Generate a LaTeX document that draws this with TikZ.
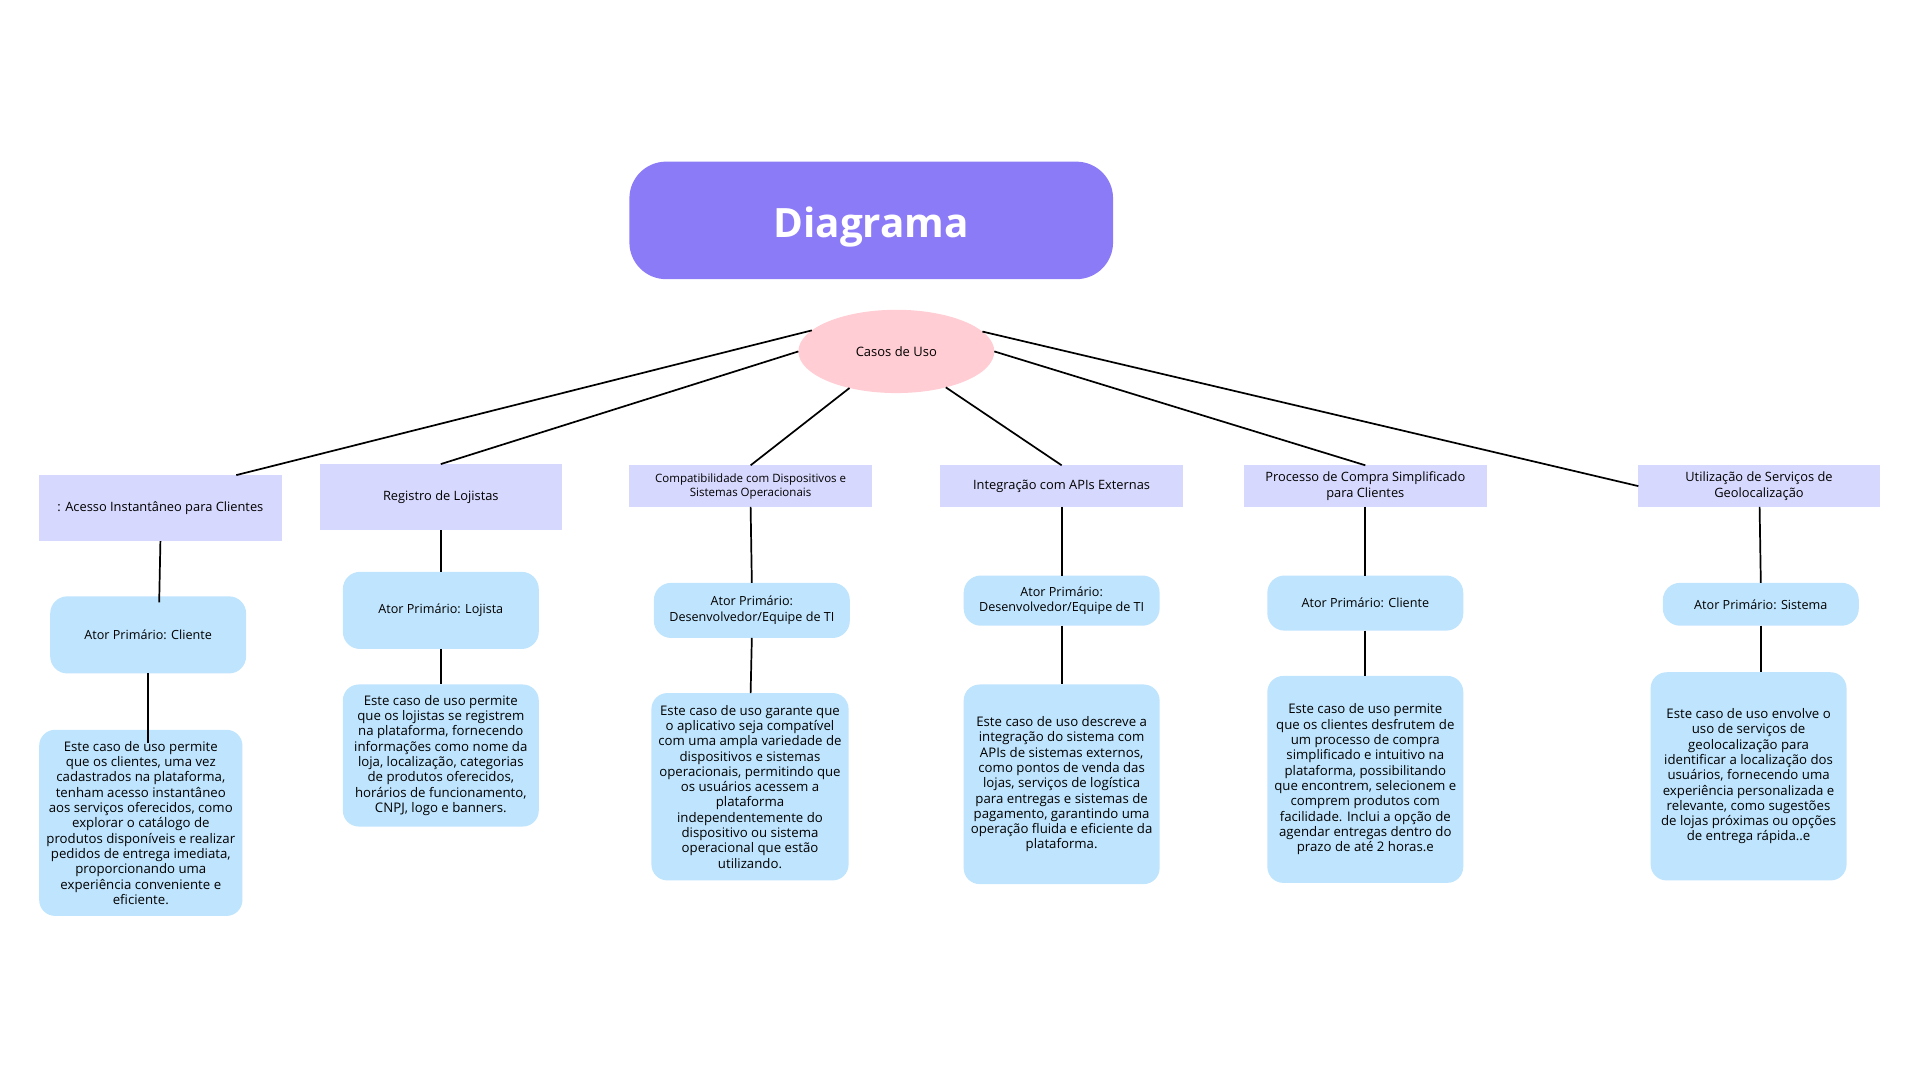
\documentclass[tikz,border=0pt]{standalone}
\usepackage{fontspec}
\setmainfont{Open Sans}
\usetikzlibrary{shapes.geometric,calc}
\definecolor{titlepurple}{HTML}{8C7BF7}
\definecolor{ellpink}{HTML}{FFCDD3}
\definecolor{lavbox}{HTML}{D7D8FD}
\definecolor{lightblue}{HTML}{BFE4FD}
\begin{document}
\begin{tikzpicture}[x=1pt,y=-1pt,
  titlebox/.style={fill=titlepurple,rounded corners=30pt,minimum width=395pt,minimum height=96pt,inner sep=0pt,outer sep=0pt,text=white,font=\fontsize{33}{40}\selectfont\bfseries},
  usecase/.style={ellipse,fill=ellpink,minimum width=160pt,minimum height=68pt,inner sep=0pt,outer sep=0pt,font=\fontsize{10.6}{12}\selectfont},
  topic/.style={fill=lavbox,minimum width=198pt,inner sep=0pt,outer sep=0pt,align=center,font=\fontsize{10.5}{12.8}\selectfont},
  actor/.style={fill=lightblue,rounded corners=14pt,minimum width=160pt,inner sep=0pt,outer sep=0pt,align=center,font=\fontsize{10.3}{12.8}\selectfont},
  desc/.style={fill=lightblue,rounded corners=13pt,minimum width=160pt,inner sep=0pt,outer sep=0pt,align=center,font=\fontsize{10.8}{12.5}\selectfont},
  link/.style={draw=black,line width=1.4pt}
]
\useasboundingbox (0,0) rectangle (1568,882);

\node[titlebox] (title) at (711.5,180) {\raisebox{-5pt}[\height][\depth]{Diagrama}};
\node[usecase] (casos) at (732,287) {Casos de Uso};

\node[topic,minimum height=54pt] (b1) at (131,415) {: Acesso Instantâneo para Clientes};
\node[topic,minimum height=54pt] (b2) at (360,406) {Registro de Lojistas};
\node[topic,minimum height=34pt,font=\fontsize{9.4}{11.5}\selectfont] (b3) at (613,397) {Compatibilidade com Dispositivos e\\Sistemas Operacionais};
\node[topic,minimum height=34pt] (b4) at (867,397) {Integração com APIs Externas};
\node[topic,minimum height=34pt] (b5) at (1115,397) {Processo de Compra Simplificado\\para Clientes};
\node[topic,minimum height=34pt,minimum width=197pt] (b6) at (1436.5,397) {Utilização de Serviços de\\Geolocalização};

\node[actor,minimum height=63pt] (a1) at (121,518.5) {Ator Primário: Cliente};
\node[actor,minimum height=63pt] (a2) at (360,498.5) {Ator Primário: Lojista};
\node[actor,minimum height=45pt] (a3) at (614,498.5) {Ator Primário:\\Desenvolvedor/Equipe de TI};
\node[actor,minimum height=41pt] (a4) at (867,490.5) {Ator Primário:\\Desenvolvedor/Equipe de TI};
\node[actor,minimum height=45pt] (a5) at (1115,492.5) {Ator Primário: Cliente};
\node[actor,minimum height=35pt] (a6) at (1438,493.5) {Ator Primário: Sistema};

\node[desc,minimum width=166pt,minimum height=152pt] (d1) at (115,672) {Este caso de uso permite\\que os clientes, uma vez\\cadastrados na plataforma,\\tenham acesso instantâneo\\aos serviços oferecidos, como\\explorar o catálogo de\\produtos disponíveis e realizar\\pedidos de entrega imediata,\\proporcionando uma\\experiência conveniente e\\eficiente.};
\node[desc,minimum height=116pt] (d2) at (360,617) {Este caso de uso permite\\que os lojistas se registrem\\na plataforma, fornecendo\\informações como nome da\\loja, localização, categorias\\de produtos oferecidos,\\horários de funcionamento,\\CNPJ, logo e banners.};
\node[desc,minimum width=161pt,minimum height=153pt] (d3) at (612.5,642.5) {Este caso de uso garante que\\o aplicativo seja compatível\\com uma ampla variedade de\\dispositivos e sistemas\\operacionais, permitindo que\\os usuários acessem a\\plataforma\\independentemente do\\dispositivo ou sistema\\operacional que estão\\utilizando.};
\node[desc,minimum height=163pt] (d4) at (867,640.5) {Este caso de uso descreve a\\integração do sistema com\\APIs de sistemas externos,\\como pontos de venda das\\lojas, serviços de logística\\para entregas e sistemas de\\pagamento, garantindo uma\\operação fluida e eficiente da\\plataforma.};
\node[desc,minimum height=169pt] (d5) at (1115,636.5) {Este caso de uso permite\\que os clientes desfrutem de\\um processo de compra\\simplificado e intuitivo na\\plataforma, possibilitando\\que encontrem, selecionem e\\comprem produtos com\\facilidade. Inclui a opção de\\agendar entregas dentro do\\prazo de até 2 horas.e};
\node[desc,minimum height=170pt] (d6) at (1428,634) {Este caso de uso envolve o\\uso de serviços de\\geolocalização para\\identificar a localização dos\\usuários, fornecendo uma\\experiência personalizada e\\relevante, como sugestões\\de lojas próximas ou opções\\de entrega rápida..e};

% connectors from the use-case ellipse
\draw[link] (casos.166.7) -- ([xshift=62pt]b1.north);
\draw[link] (casos.180) -- (b2.north);
\draw[link] (casos.218.5) -- (b3.north);
\draw[link] (casos.324) -- (b4.north);
\draw[link] (casos.0) -- (b5.north);
\draw[link] (casos.13) -- (b6.west);

% topic -> actor
\draw[link] (b1.south) -- ([xshift=9pt,yshift=-5pt]a1.north);
\draw[link] (b2.south) -- (a2.north);
\draw[link] (b3.south) -- (a3.north);
\draw[link] (b4.south) -- (a4.north);
\draw[link] (b5.south) -- (a5.north);
\draw[link] ([xshift=0.5pt]b6.south) -- (a6.north);

% actor -> description
\draw[link] (a1.south) -- ([xshift=6pt,yshift=-11pt]d1.north);
\draw[link] (a2.south) -- (d2.north);
\draw[link] (a3.south) -- ([xshift=0.5pt]d3.north);
\draw[link] (a4.south) -- (d4.north);
\draw[link] (a5.south) -- (d5.north);
\draw[link] (a6.south) -- ([xshift=10pt]d6.north);
\end{tikzpicture}
\end{document}
